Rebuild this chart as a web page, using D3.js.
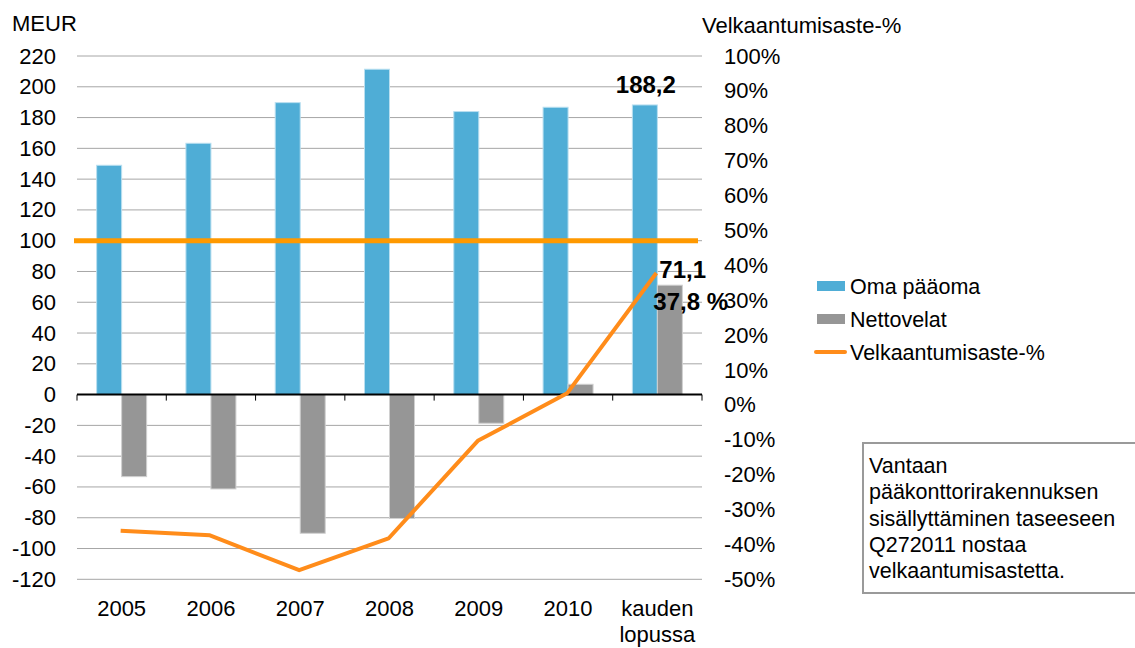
<!DOCTYPE html>
<html>
<head>
<meta charset="utf-8">
<title>Oma pääoma ja nettovelat</title>
<script src="https://d3js.org/d3.v7.min.js"></script>
<style>
  body { margin: 0; background: #fff; }
  text { font-family: "Liberation Sans", Arial, sans-serif; fill: #000; }
</style>
</head>
<body>
<script>
// data
var categories = ["2005", "2006", "2007", "2008", "2009", "2010", "kauden lopussa"];
var omaPaaoma = [149.0, 163.3, 189.7, 211.4, 183.9, 186.7, 188.2];
var nettovelat = [-53.3, -61.3, -90.1, -80.5, -18.6, 6.7, 71.1];
var velkaantumisaste = [-36.1, -37.4, -47.4, -38.3, -10.3, 3.3, 37.8];
var leftTicks = [-120, -100, -80, -60, -40, -20, 0, 20, 40, 60, 80, 100, 120, 140, 160, 180, 200, 220];
var rightTicks = [-50, -40, -30, -20, -10, 0, 10, 20, 30, 40, 50, 60, 70, 80, 90, 100];
var referenceValue = 100;
var legendNames = ["Oma pääoma", "Nettovelat", "Velkaantumisaste-%"];
var noteLines = ["Vantaan", "pääkonttorirakennuksen", "sisällyttäminen taseeseen", "Q272011 nostaa", "velkaantumisastetta."];

var w = 1135, h = 648;
// plot area (window.top is reserved, so use own names)
var pL = 77, pR = 702, pT = 56, pB = 579.3;
var blue = "#4fadd6", grey = "#969696", orange = "#ff8c1a", refOrange = "#ff9900";

var svg = d3.select("body").append("svg")
  .attr("width", w)
  .attr("height", h);

var x = d3.scaleBand().domain(categories).range([pL, pR]);
var y = d3.scaleLinear().domain([-120, 220]).range([pB, pT]);
var y2 = d3.scaleLinear().domain([-50, 100]).range([pB, pT]);

// gridlines
svg.append("g").selectAll("line")
  .data(leftTicks.filter(function(d){ return d != 0; }))
  .enter().append("line")
  .attr("x1", pL).attr("x2", pR)
  .attr("y1", function(d){ return y(d); })
  .attr("y2", function(d){ return y(d); })
  .attr("stroke", "#a6a6a6")
  .attr("stroke-width", 1);

// left axis labels (plain hyphen for negatives, like the original)
var yAxis = d3.axisLeft(y).tickValues(leftTicks).tickSize(0).tickPadding(0)
  .tickFormat(function(d){ return String(d); });
var gy = svg.append("g").attr("transform", "translate(" + (pL - 21) + ",0)").call(yAxis);
gy.select(".domain").remove();
gy.selectAll("text").attr("font-size", "22px").attr("font-family", "Liberation Sans, Arial, sans-serif");

// right axis labels
var y2Axis = d3.axisRight(y2).tickValues(rightTicks).tickSize(0).tickPadding(0)
  .tickFormat(function(d){ return d + "%"; });
var gy2 = svg.append("g").attr("transform", "translate(" + (pR + 22) + ",0)").call(y2Axis);
gy2.select(".domain").remove();
gy2.selectAll("text").attr("font-size", "22px").attr("font-family", "Liberation Sans, Arial, sans-serif");

// bars
var barW = 25;
svg.append("g").selectAll("rect")
  .data(omaPaaoma)
  .enter().append("rect")
  .attr("x", function(d, i){ return x(categories[i]) + x.bandwidth() / 2 - barW; })
  .attr("y", function(d){ return y(Math.max(0, d)); })
  .attr("width", barW)
  .attr("height", function(d){ return Math.abs(y(d) - y(0)); })
  .attr("fill", blue)
  .attr("stroke", "#b9dff0")
  .attr("stroke-width", 1);

svg.append("g").selectAll("rect")
  .data(nettovelat)
  .enter().append("rect")
  .attr("x", function(d, i){ return x(categories[i]) + x.bandwidth() / 2; })
  .attr("y", function(d){ return y(Math.max(0, d)); })
  .attr("width", barW)
  .attr("height", function(d){ return Math.abs(y(d) - y(0)); })
  .attr("fill", grey)
  .attr("stroke", "#d0d0d0")
  .attr("stroke-width", 1);

// zero axis with ticks
var gx = svg.append("g");
gx.append("line")
  .attr("x1", pL).attr("x2", pR)
  .attr("y1", y(0)).attr("y2", y(0))
  .attr("stroke", "#000").attr("stroke-width", 2);
gx.selectAll(".tk")
  .data(categories.concat(["end"]))
  .enter().append("line")
  .attr("class", "tk")
  .attr("x1", function(d, i){ return pL + i * x.step(); })
  .attr("x2", function(d, i){ return pL + i * x.step(); })
  .attr("y1", y(0)).attr("y2", y(0) + 6)
  .attr("stroke", "#000").attr("stroke-width", 1);

// category labels
svg.append("g").selectAll("text")
  .data(categories)
  .enter().append("text")
  .attr("text-anchor", "middle")
  .attr("font-size", "22px")
  .each(function(d){
    var parts = d.split(" ");
    var t = d3.select(this);
    parts.forEach(function(p, k){
      t.append("tspan")
        .attr("x", x(d) + x.bandwidth() / 2)
        .attr("y", 616 + k * 26)
        .text(p);
    });
  });

// reference line at 100 MEUR
svg.append("line")
  .attr("x1", pL - 3).attr("x2", pR - 4)
  .attr("y1", y(referenceValue)).attr("y2", y(referenceValue))
  .attr("stroke", refOrange)
  .attr("stroke-width", 5);

// Velkaantumisaste line
var line = d3.line()
  .x(function(d, i){ return x(categories[i]) + x.bandwidth() / 2 - 1; })
  .y(function(d){ return y2(d); });
svg.append("path")
  .datum(velkaantumisaste)
  .attr("d", line)
  .attr("fill", "none")
  .attr("stroke", orange)
  .attr("stroke-width", 4)
  .attr("stroke-linejoin", "round");

// value labels
var last = categories.length - 1;
var cx = x(categories[last]) + x.bandwidth() / 2;
svg.append("text")
  .attr("x", cx - barW / 2 + 1)
  .attr("y", y(omaPaaoma[last]) - 12)
  .attr("text-anchor", "middle")
  .attr("font-size", "24px").attr("font-weight", "bold")
  .text(omaPaaoma[last].toFixed(1).replace(".", ","));
svg.append("text")
  .attr("x", cx + 2)
  .attr("y", y(nettovelat[last]) - 7)
  .attr("font-size", "24px").attr("font-weight", "bold")
  .text(nettovelat[last].toFixed(1).replace(".", ","));
svg.append("text")
  .attr("x", cx - 4)
  .attr("y", y2(velkaantumisaste[last]) + 37)
  .attr("font-size", "24px").attr("font-weight", "bold")
  .text(velkaantumisaste[last].toFixed(1).replace(".", ",") + " %");

// axis titles
svg.append("text").attr("x", 12).attr("y", 31).attr("font-size", "22px").text("MEUR");
svg.append("text").attr("x", 702).attr("y", 33).attr("font-size", "22px").text("Velkaantumisaste-%");

// legend
var lg = svg.append("g").attr("transform", "translate(817,286)");
legendNames.forEach(function(name, i){
  var gy0 = i * 33;
  if (i < 2) {
    lg.append("rect").attr("x", 0).attr("y", gy0 - 5).attr("width", 28).attr("height", 10)
      .attr("fill", i == 0 ? blue : grey);
  } else {
    lg.append("line").attr("x1", -1).attr("x2", 28).attr("y1", gy0).attr("y2", gy0)
      .attr("stroke", orange).attr("stroke-width", 4).attr("stroke-linecap", "round");
  }
  lg.append("text").attr("x", 33).attr("y", gy0 + 8).attr("font-size", "21.5px").text(name);
});

// note box
svg.append("rect")
  .attr("x", 863).attr("y", 443)
  .attr("width", 300).attr("height", 150)
  .attr("fill", "#fff")
  .attr("stroke", "#9a9a9a").attr("stroke-width", 2);
svg.append("g").selectAll("text")
  .data(noteLines)
  .enter().append("text")
  .attr("x", 869)
  .attr("y", function(d, i){ return 473 + i * 26.3; })
  .attr("font-size", "21.5px")
  .text(function(d){ return d; });
</script>
</body>
</html>
